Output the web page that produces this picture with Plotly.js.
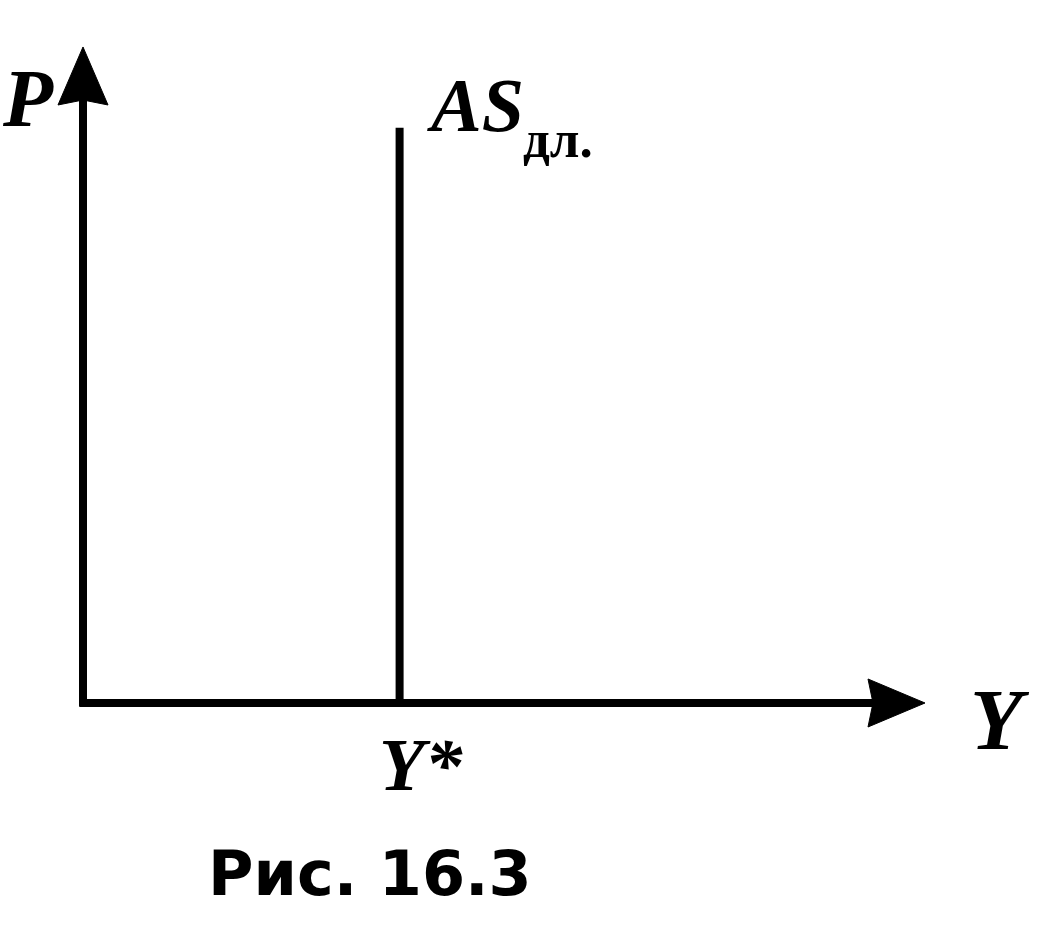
<!DOCTYPE html>
<html><head><meta charset="utf-8">
<script src="https://cdn.plot.ly/plotly-3.0.1.min.js"></script>
<style>html,body{margin:0;padding:0;background:#fff}#chart{width:1045px;height:928px}</style>
</head><body><div id="chart"></div>
<script>
// Data (economic units)
var axisX = [0, 10];      // Y axis extent (output)
var axisY = [0, 10];      // P axis extent (price level)
var yStar = 3.76;         // potential output Y*
var asLine = [0, 8.77];   // long-run AS from 0 to its top
var labels = {p: 'P', y: 'Y', as: 'AS', asSub: 'дл.', yStar: 'Y*', caption: 'Рис. 16.3'};

var W = 1045, H = 928;
var xr = [-0.9857, 11.425], yr = [-3.430, 10.716];
var kx = W / (xr[1] - xr[0]), ky = H / (yr[1] - yr[0]);

function head(tipX, tipY, pts) {
  var xs = [], ys = [];
  pts.forEach(function (p) { xs.push(tipX + p[0] / kx); ys.push(tipY - p[1] / ky); });
  xs.push(xs[0]); ys.push(ys[0]);
  return {x: xs, y: ys, mode: 'lines', fill: 'toself', fillcolor: '#000',
          line: {color: '#000', width: 1}, hoverinfo: 'skip', showlegend: false};
}
var lineStyle = {color: '#000', width: 8};
var traces = [
  {x: [axisX[0], axisX[0]], y: [axisY[0] - 3.5 / ky, axisY[1] - 50 / ky], mode: 'lines', line: lineStyle, showlegend: false},
  {x: [axisX[0] - 3.5 / kx, axisX[1] - 50 / kx], y: [axisY[0], axisY[0]], mode: 'lines', line: lineStyle, showlegend: false},
  {x: [yStar, yStar], y: asLine, mode: 'lines', line: lineStyle, showlegend: false},
  head(axisX[0], axisY[1], [[0, 0], [-25, 58], [0, 53], [25, 58]]),
  head(axisX[1], axisY[0], [[0, 0], [-57, -24], [-52, 0], [-57, 24]])
];

var serif = "'Liberation Serif'";
var ann = [
  {text: '<b><i>' + labels.p + '</i></b>', x: 0, y: 1 - 98 / H, xref: 'paper', yref: 'paper', xanchor: 'left', yanchor: 'middle', font: {family: serif, size: 82}},
  {text: '<b><i>' + labels.as + '</i></b>', x: 425 / W, y: 1 - 105 / H, xref: 'paper', yref: 'paper', xanchor: 'left', yanchor: 'middle', font: {family: serif, size: 76}},
  {text: '<b>' + labels.asSub + '</b>', x: 521 / W, y: 1 - 139 / H, xref: 'paper', yref: 'paper', xanchor: 'left', yanchor: 'middle', font: {family: serif, size: 53}},
  {text: '<b><i>' + labels.y + '</i></b>', x: 1032 / W, y: 1 - 720 / H, xref: 'paper', yref: 'paper', xanchor: 'right', yanchor: 'middle', font: {family: serif, size: 86}},
  {text: '<b><i>' + labels.yStar + '</i></b>', x: 421 / W, y: 1 - 764 / H, xref: 'paper', yref: 'paper', xanchor: 'center', yanchor: 'middle', font: {family: serif, size: 75}},
  {text: '<b>' + labels.caption + '</b>', x: 370 / W, y: 1 - 873 / H, xref: 'paper', yref: 'paper', xanchor: 'center', yanchor: 'middle', font: {family: "'DejaVu Sans'", size: 62}}
];
ann.forEach(function (a) { a.showarrow = false; a.font.color = '#000'; });

Plotly.newPlot('chart', traces, {
  width: W, height: H, margin: {l: 0, r: 0, t: 0, b: 0},
  paper_bgcolor: '#fff', plot_bgcolor: '#fff', showlegend: false,
  xaxis: {range: xr, visible: false, fixedrange: true},
  yaxis: {range: yr, visible: false, fixedrange: true},
  annotations: ann
}, {displayModeBar: false, staticPlot: true});
</script></body></html>
